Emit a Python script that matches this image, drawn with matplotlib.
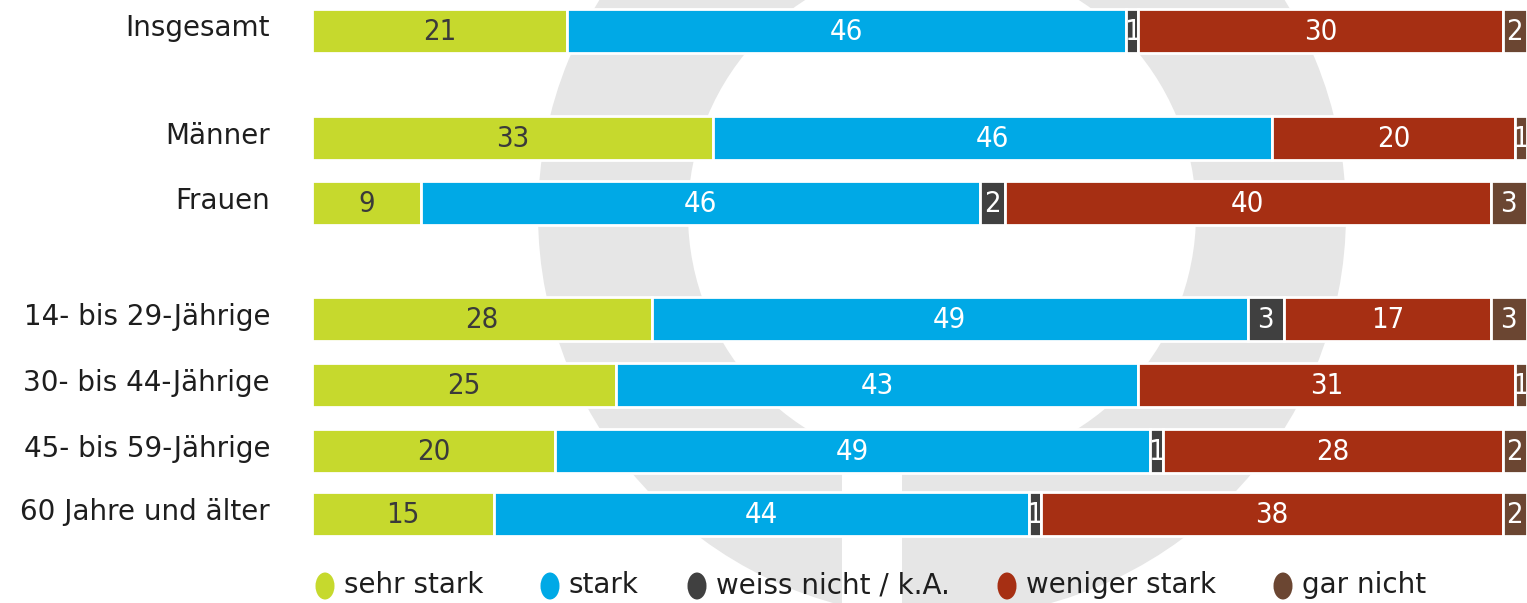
import matplotlib
matplotlib.use("Agg")
import matplotlib.pyplot as plt
from matplotlib.patches import Ellipse, Wedge, Rectangle
from matplotlib.transforms import Bbox, TransformedBbox
import numpy as np

# ---- data ----
categories = ["Insgesamt", "Männer", "Frauen", "14- bis 29-Jährige",
              "30- bis 44-Jährige", "45- bis 59-Jährige", "60 Jahre und älter"]
series_names = ["sehr stark", "stark", "weiss nicht / k.A.", "weniger stark", "gar nicht"]
sehr_stark = [21, 33, 9, 28, 25, 20, 15]
stark = [46, 46, 46, 49, 43, 49, 44]
weiss_nicht = [1, 0, 2, 3, 0, 1, 1]
weniger_stark = [30, 20, 40, 17, 31, 28, 38]
gar_nicht = [2, 1, 3, 3, 1, 2, 2]

# ---- style / layout ----
colors = ["#c6d92d", "#00a9e6", "#404040", "#a62f13", "#6b4632"]
text_colors = ["#3a3a3a", "white", "white", "white", "white"]
row_y = [30.5, 138, 203, 319, 385, 451, 514]   # pixel rows
bar_h = 44
W, H = 1527, 603
x0_px = 312

fig = plt.figure(figsize=(W / 100, H / 100), dpi=100)

# background watermark
bg = fig.add_axes([0, 0, 1, 1], zorder=0)
bg.set_xlim(0, W)
bg.set_ylim(H, 0)
bg.axis("off")
grey = "#e6e6e6"
cx, cy = 942, 214
bg.add_patch(Wedge((cx, cy), 404, 0, 360, width=150, facecolor=grey, edgecolor="none"))
bg.add_patch(Rectangle((842, cy + 250), 60, 200, facecolor="white", edgecolor="none"))

# main axes: x in percent 0..100 mapped to px 312..1527
ax = fig.add_axes([x0_px / W, 0, (W - x0_px) / W, 1], zorder=1)
ax.patch.set_alpha(0)
ax.set_xlim(0, 100)
ax.set_ylim(H, 0)
ax.axis("off")

series = [sehr_stark, stark, weiss_nicht, weniger_stark, gar_nicht]
left = np.zeros(len(categories))
for vals, col, tcol in zip(series, colors, text_colors):
    vals = np.array(vals, dtype=float)
    ax.barh(row_y, vals, left=left, height=bar_h, color=col,
            edgecolor="white", linewidth=2.0)
    for yy, l, v in zip(row_y, left, vals):
        if v > 0:
            t = ax.text(l + v / 2, yy + 1, f"{int(v)}", ha="center", va="center",
                        color=tcol, fontsize=21, family="DejaVu Sans",
                        fontstretch="condensed")
            box = Bbox([[l + 0.07, yy - bar_h / 2], [l + v - 0.07, yy + bar_h / 2]])
            t.set_clip_box(TransformedBbox(box, ax.transData))
            t.set_clip_on(True)
    left += vals

# category labels
for yy, cat in zip(row_y, categories):
    bg.text(270, yy - 2, cat, ha="right", va="center", fontsize=20,
            color="#1e1e1e", family="DejaVu Sans")

# legend
leg_x = [325, 550, 697, 1007, 1283]
leg_y = 586
for lx, name, col in zip(leg_x, series_names, colors):
    bg.add_patch(Ellipse((lx, leg_y), 19, 27, facecolor=col, edgecolor="none"))
    bg.text(lx + 19, leg_y - 1, name, ha="left", va="center", fontsize=20,
            color="#1e1e1e", family="Liberation Sans Narrow")

fig.savefig("out.png", dpi=100)
